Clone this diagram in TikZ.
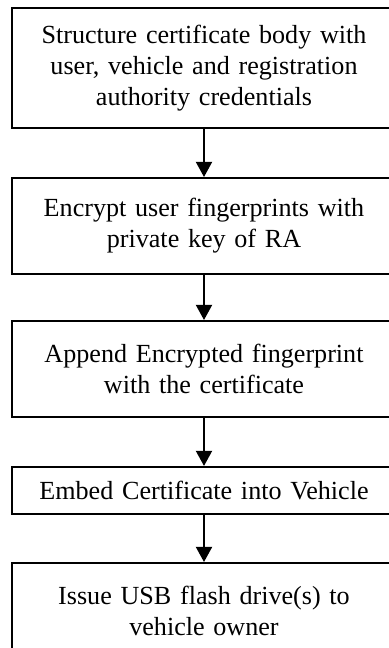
\documentclass[tikz,border=0pt]{standalone}
\usepackage{fontspec}
\setmainfont{Liberation Serif}
\usetikzlibrary{arrows.meta}

\begin{document}
\begin{tikzpicture}[
    stepbox/.style={draw, line width=0.9pt, minimum width=172.8pt,
      text width=165pt, align=center, inner sep=0pt,
      font=\fontsize{11.75pt}{13.9pt}\selectfont},
    arr/.style={line width=0.9pt, -{Triangle[length=6.8pt,width=7.2pt]}}
  ]
    \def\x{0.45pt}
    \def\y{-0.45pt}
    \useasboundingbox (0,0) rectangle (388*\x, 648*\y);
    \node[stepbox, minimum height=54pt] (S1) at (204*\x, 68*\y)
      {Structure certificate body with\\ user, vehicle and registration\\ authority credentials};
    \node[stepbox, minimum height=43.2pt] (S2) at (204*\x, 226*\y)
      {Encrypt user fingerprints with\\ private key of RA};
    \node[stepbox, minimum height=43.2pt] (S3) at (204*\x, 369*\y)
      {Append Encrypted fingerprint\\ with the certificate};
    \node[stepbox, minimum height=21.2pt] (S4) at (204*\x, 490.5*\y)
      {Embed Certificate into Vehicle};
    \node[stepbox, minimum height=43.2pt] (S5) at (204*\x, 611*\y)
      {Issue USB flash drive(s) to\\ vehicle owner};
    \path (S1) edge [arr] (S2);
    \path (S2) edge [arr] (S3);
    \path (S3) edge [arr] (S4);
    \path (S4) edge [arr] (S5);
  \end{tikzpicture}
\end{document}
